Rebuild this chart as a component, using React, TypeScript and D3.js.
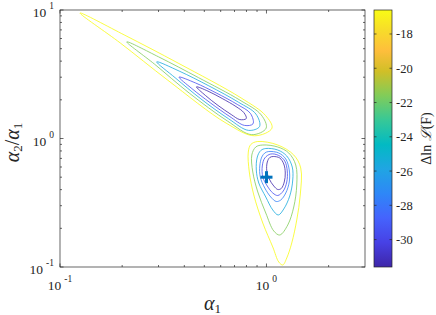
import * as d3 from "d3";

// chart box (px)
const W = 436;
const H = 315;
const plot = { x1: 60, x2: 365, y1: 10, y2: 267 };
const cbar = { x1: 374, x2: 392 };

const xDomain = [0.1, 3];
const yDomain = [0.1, 10];
const colorRange = [-31.6, -16.6];
const levels = [-31.6, -29.6, -27.6, -25.6, -21.6, -16.6];
const colorbarTicks = [-30, -28, -26, -24, -22, -20, -18];
const xExponents = [-1, 0];
const yExponents = [-1, 0, 1];
const bestFit = [1.0, 0.5];

// MATLAB parula, every few entries of the 64-colour table
const parula = [
  [0.2422, 0.1504, 0.6603], [0.2783, 0.2559, 0.8991], [0.2699, 0.3892, 0.9906],
  [0.1786, 0.5289, 0.9682], [0.1248, 0.6459, 0.8883], [0.0067, 0.7312, 0.766],
  [0.2161, 0.7843, 0.5923], [0.5044, 0.7993, 0.348], [0.8203, 0.7498, 0.1535],
  [0.9956, 0.7434, 0.2371], [0.9676, 0.8639, 0.1643], [0.9769, 0.9839, 0.0805],
];
const parulaAt = [0, 6, 12, 18, 24, 30, 36, 42, 48, 53, 58, 63].map((i) => i / 63);

// contour rings, points as [log10 α1, log10 α2/α1]
// lower island (6 levels)
const lowerRings = [
  { level: 0, pts: [[0.0329, -0.1401], [0.0643, -0.1518], [0.0837, -0.1984], [0.091, -0.2685], [0.0861, -0.3385], [0.0716, -0.3891], [0.0547, -0.3969], [0.0353, -0.3696], [0.0135, -0.3152], [0.0015, -0.2529], [0.0039, -0.1829], [0.016, -0.1479]] },
  { level: 1, pts: [[0.0208, -0.1206], [0.0595, -0.1323], [0.0885, -0.1751], [0.1006, -0.2529], [0.0982, -0.3385], [0.0813, -0.4086], [0.0547, -0.4436], [0.0305, -0.4241], [0.0039, -0.3696], [-0.0179, -0.2996], [-0.0203, -0.214], [-0.0082, -0.1518]] },
  { level: 2, pts: [[0.0111, -0.1012], [0.0595, -0.1128], [0.0934, -0.1595], [0.1103, -0.2451], [0.1103, -0.3385], [0.0934, -0.4241], [0.0692, -0.4786], [0.0474, -0.4903], [0.0208, -0.4552], [-0.0082, -0.3852], [-0.03, -0.2996], [-0.0324, -0.214], [-0.0227, -0.144], [-0.0082, -0.1128]] },
  { level: 3, pts: [[-0.0034, -0.0778], [0.0547, -0.0895], [0.0982, -0.1362], [0.1248, -0.2218], [0.1272, -0.323], [0.1127, -0.4475], [0.0837, -0.5486], [0.0571, -0.5953], [0.0305, -0.5564], [-0.0034, -0.4552], [-0.0373, -0.3463], [-0.0493, -0.2451], [-0.0445, -0.144], [-0.0276, -0.0934]] },
  { level: 4, pts: [[-0.0179, -0.0506], [0.0547, -0.0661], [0.1079, -0.1128], [0.1418, -0.2062], [0.1466, -0.3619], [0.1321, -0.5331], [0.103, -0.6731], [0.0643, -0.751], [0.0353, -0.7198], [-0.0034, -0.5798], [-0.0421, -0.4163], [-0.0663, -0.2607], [-0.0711, -0.1284], [-0.0518, -0.0661]] },
  { level: 5, pts: [[-0.0421, -0.0233], [0.0547, -0.0506], [0.1321, -0.1284], [0.1659, -0.2296], [0.1635, -0.4397], [0.1466, -0.6342], [0.1224, -0.8132], [0.0982, -0.9299], [0.0789, -0.9844], [0.0595, -0.9611], [0.0305, -0.8443], [-0.0179, -0.6576], [-0.0614, -0.4397], [-0.0832, -0.2607], [-0.0881, -0.1051], [-0.076, -0.0467]] },
];

// upper, elongated island
const upperRings = [
  { level: 0, pts: [[-0.3389, 0.402], [-0.2835, 0.3687], [-0.2146, 0.3113], [-0.1477, 0.2487], [-0.1092, 0.2007], [-0.0979, 0.1553], [-0.1291, 0.1472], [-0.1708, 0.1866], [-0.2347, 0.2572], [-0.2959, 0.3353]] },
  { level: 1, pts: [[-0.4233, 0.4779], [-0.3443, 0.4327], [-0.2436, 0.3547], [-0.1415, 0.2653], [-0.0776, 0.1947], [-0.0651, 0.1146], [-0.1065, 0.1019], [-0.177, 0.1699], [-0.2722, 0.2779], [-0.361, 0.3879]] },
  { level: 3, pts: [[-0.5315, 0.5966], [-0.4228, 0.5247], [-0.2794, 0.41], [-0.1353, 0.282], [-0.051, 0.19], [-0.0335, 0.0933], [-0.087, 0.0632], [-0.1833, 0.1532], [-0.3175, 0.3079], [-0.4422, 0.4726]] },
  { level: 4, pts: [[-0.6766, 0.752], [-0.5226, 0.6354], [-0.3291, 0.4734], [-0.129, 0.2988], [-0.0254, 0.1834], [-0.0016, 0.0806], [-0.0713, 0.0298], [-0.1895, 0.1365], [-0.3739, 0.3532], [-0.5433, 0.58]] },
  { level: 5, pts: [[-0.9032, 0.9767], [-0.6857, 0.8034], [-0.4279, 0.5868], [-0.1228, 0.3155], [-0.0045, 0.1788], [0.0266, 0.0807], [-0.0575, 0.0212], [-0.1957, 0.1198], [-0.4777, 0.4532], [-0.708, 0.7433]] },
];

const x = d3.scaleLog().domain(xDomain).range([plot.x1, plot.x2]);
const y = d3.scaleLog().domain(yDomain).range([plot.y2, plot.y1]);
const cy = d3.scaleLinear().domain(colorRange).range([plot.y2, plot.y1]);
const parulaScale = d3
  .scaleLinear<string>()
  .domain(parulaAt)
  .range(parula.map(([r, g, b]) => d3.rgb(r * 255, g * 255, b * 255).formatHex()))
  .interpolate(d3.interpolateRgb)
  .clamp(true);
const colorOf = (v: number) => parulaScale((v - colorRange[0]) / (colorRange[1] - colorRange[0]));

const ringLine = d3
  .line<number[]>()
  .x((d) => x(Math.pow(10, d[0])))
  .y((d) => y(Math.pow(10, d[1])))
  .curve(d3.curveCatmullRomClosed.alpha(0.5));

const minorTicks = (lo: number, hi: number) => {
  const out: number[] = [];
  for (let e = -2; e <= 2; e++) {
    for (let m = 2; m <= 9; m++) {
      const v = m * Math.pow(10, e);
      if (v > lo * 1.0001 && v < hi * 0.9999) out.push(v);
    }
  }
  return out;
};

const axisColor = "#262626";
const font = "'Liberation Serif', 'Times New Roman', serif";

export default function App() {
  const xMinor = minorTicks(xDomain[0], xDomain[1]);
  const yMinor = minorTicks(yDomain[0], yDomain[1]);
  const xMajor = xExponents.map((e) => Math.pow(10, e));
  const yMajor = yExponents.map((e) => Math.pow(10, e));

  return (
    <div style={{ position: "absolute", left: 0, top: 0 }}>
      <svg width={W} height={H} style={{ display: "block", background: "#fff" }}>
        <defs>
          <linearGradient id="parula" x1="0" y1="1" x2="0" y2="0">
            {parulaAt.map((t, i) => (
              <stop key={i} offset={t} stopColor={parulaScale(t)} />
            ))}
          </linearGradient>
          <clipPath id="plotClip">
            <rect x={plot.x1} y={plot.y1} width={plot.x2 - plot.x1} height={plot.y2 - plot.y1} />
          </clipPath>
        </defs>

        {/* contours */}
        <g clipPath="url(#plotClip)" fill="none" strokeWidth={0.8}>
          {[...lowerRings, ...upperRings].map((r, i) => (
            <path key={i} d={ringLine(r.pts) || ""} stroke={colorOf(levels[r.level])} />
          ))}
        </g>

        {/* best-fit marker */}
        <g stroke="#0072BD" strokeWidth={3}>
          <line x1={x(bestFit[0]) - 6} x2={x(bestFit[0]) + 6} y1={y(bestFit[1])} y2={y(bestFit[1])} />
          <line x1={x(bestFit[0])} x2={x(bestFit[0])} y1={y(bestFit[1]) - 6} y2={y(bestFit[1]) + 6} />
        </g>

        {/* axes box and ticks */}
        <g stroke={axisColor} strokeWidth={0.7} fill="none">
          <rect x={plot.x1} y={plot.y1} width={plot.x2 - plot.x1} height={plot.y2 - plot.y1} />
          {xMajor.concat(xMinor).map((v, i) => {
            const len = i < xMajor.length ? 3.5 : 2;
            return (
              <g key={"x" + i}>
                <line x1={x(v)} x2={x(v)} y1={plot.y2} y2={plot.y2 - len} />
                <line x1={x(v)} x2={x(v)} y1={plot.y1} y2={plot.y1 + len} />
              </g>
            );
          })}
          {yMajor.concat(yMinor).map((v, i) => {
            const len = i < yMajor.length ? 3.5 : 2;
            return (
              <g key={"y" + i}>
                <line x1={plot.x1} x2={plot.x1 + len} y1={y(v)} y2={y(v)} />
                <line x1={plot.x2} x2={plot.x2 - len} y1={y(v)} y2={y(v)} />
              </g>
            );
          })}
        </g>

        {/* tick labels */}
        <g fontFamily={font} fill="#262626">
          {xExponents.map((e) => (
            <text key={"xl" + e} x={x(Math.pow(10, e))} y={290} textAnchor="middle" fontSize={13.5}>
              10
              <tspan dx={3} dy={-8} fontSize={9.5}>{e}</tspan>
            </text>
          ))}
          {yExponents.map((e) => (
            <text key={"yl" + e} x={54} y={y(Math.pow(10, e)) + 7} textAnchor="end" fontSize={13.5}>
              10
              <tspan dx={3} dy={-8} fontSize={9.5}>{e}</tspan>
            </text>
          ))}
        </g>

        {/* axis labels */}
        <g fontFamily={font} fill="#262626">
          <text x={(plot.x1 + plot.x2) / 2} y={310} textAnchor="middle" fontSize={20}>
            <tspan fontStyle="italic">α</tspan>
            <tspan fontSize={13} dy={3}>1</tspan>
          </text>
          <text transform={`translate(19,${(plot.y1 + plot.y2) / 2 + 4}) rotate(-90)`} textAnchor="middle" fontSize={20}>
            <tspan fontStyle="italic">α</tspan>
            <tspan fontSize={13} dy={3}>2</tspan>
            <tspan dy={-3}>/</tspan>
            <tspan fontStyle="italic">α</tspan>
            <tspan fontSize={13} dy={3}>1</tspan>
          </text>
        </g>

        {/* colorbar */}
        <rect x={cbar.x1} y={plot.y1} width={cbar.x2 - cbar.x1} height={plot.y2 - plot.y1} fill="url(#parula)" />
        <rect x={cbar.x1} y={plot.y1} width={cbar.x2 - cbar.x1} height={plot.y2 - plot.y1} fill="none" stroke={axisColor} strokeWidth={0.7} />
        <g stroke={axisColor} strokeWidth={0.7}>
          {colorbarTicks.map((t) => (
            <g key={"ct" + t}>
              <line x1={cbar.x2} x2={cbar.x2 - 2.5} y1={cy(t)} y2={cy(t)} />
              <line x1={cbar.x1} x2={cbar.x1 + 2.5} y1={cy(t)} y2={cy(t)} />
            </g>
          ))}
        </g>
        <g fontFamily={font} fill="#262626" fontSize={12.5}>
          {colorbarTicks.map((t) => (
            <text key={"cl" + t} x={cbar.x2 + 4} y={cy(t) + 4.5}>
              {String(t)}
            </text>
          ))}
          <text transform={`translate(431,${(plot.y1 + plot.y2) / 2}) rotate(-90)`} textAnchor="middle" fontSize={14}>
            Δln <tspan fontFamily="'DejaVu Serif', serif" fontStyle="italic">ℒ</tspan>(F)
          </text>
        </g>
      </svg>
    </div>
  );
}
